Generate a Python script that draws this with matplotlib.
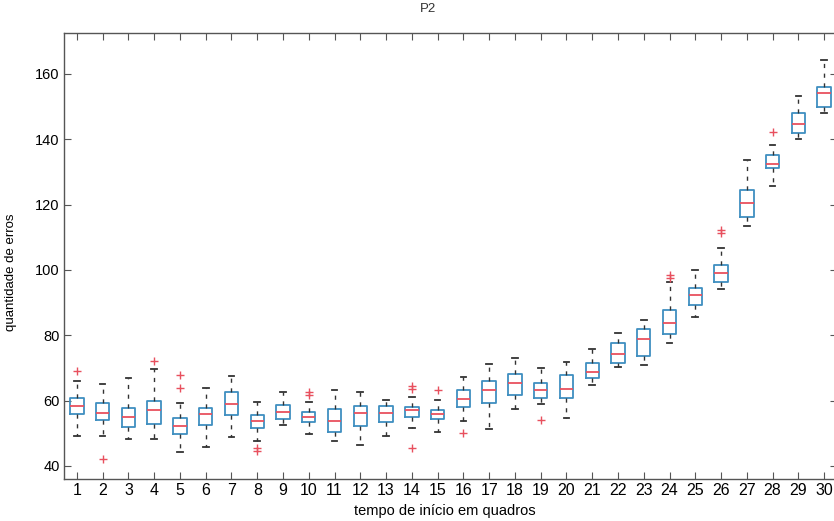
import matplotlib
matplotlib.use("Agg")
import matplotlib.pyplot as plt

plt.rcParams['font.family'] = ['Liberation Sans', 'DejaVu Sans']

# one box per start time (frames 1..30)
labels = [str(i) for i in range(1, 31)]
med = [58.2, 56.1, 55.1, 57.0, 52.2, 55.9, 59.0, 53.8, 56.4, 54.9,
       53.9, 56.1, 56.1, 57.1, 55.9, 60.4, 63.3, 65.3, 63.3, 63.5,
       68.9, 74.2, 78.8, 83.7, 92.3, 99.0, 120.4, 132.4, 144.7, 154.1]
q1 = [55.8, 54.1, 51.8, 52.9, 49.7, 52.5, 55.6, 51.5, 54.3, 53.4,
      50.3, 52.2, 53.3, 55.1, 54.3, 58.0, 59.2, 61.7, 60.7, 60.7,
      66.8, 71.6, 73.7, 80.4, 89.3, 96.2, 116.1, 131.1, 141.8, 149.8]
q3 = [60.9, 59.2, 57.8, 60.0, 54.8, 57.8, 62.7, 55.6, 58.7, 56.4,
      57.4, 58.4, 58.4, 58.0, 57.1, 63.3, 66.1, 68.2, 65.3, 67.9,
      71.6, 77.7, 81.8, 87.7, 94.4, 101.5, 124.5, 135.2, 148.1, 156.1]
whislo = [49.2, 49.2, 48.3, 48.3, 44.2, 45.9, 48.8, 47.5, 52.5, 49.7,
          47.7, 46.4, 49.2, 51.7, 50.5, 53.6, 51.2, 57.4, 59.0, 54.6,
          64.8, 70.2, 70.9, 77.7, 85.7, 94.2, 113.5, 125.7, 140.1, 148.0]
whishi = [66.1, 65.0, 66.8, 69.7, 59.2, 63.8, 67.5, 59.7, 62.6, 59.5,
          63.3, 62.6, 60.2, 61.2, 60.2, 67.2, 71.1, 73.0, 69.9, 71.9,
          75.8, 80.6, 84.7, 96.2, 100.0, 106.8, 133.7, 138.3, 153.3, 164.3]
fliers = [[69.2], [42.2], [], [72.1], [67.8, 63.7], [], [], [45.6, 44.5], [], [62.6, 61.7],
          [], [], [], [64.5, 63.5, 45.4], [63.3], [50.0], [], [], [54.1], [],
          [], [], [], [98.5, 97.6], [], [112.2, 111.4], [], [142.3], [], []]

stats = []
for i in range(len(labels)):
    stats.append(dict(med=med[i], q1=q1[i], q3=q3[i], whislo=whislo[i],
                      whishi=whishi[i], fliers=fliers[i], label=labels[i]))

fig = plt.figure(figsize=(8.34, 5.21), dpi=100)
# right spine sits just past the picture edge, as in the scan
ax = fig.add_axes([64/834, 42/521, 773/834, 446/521])

ax.bxp(stats, positions=range(1, 31), widths=0.52, showfliers=True,
       boxprops=dict(color='#3f8fc0', linewidth=1.3),
       medianprops=dict(color='#e8505e', linewidth=1.3),
       whiskerprops=dict(color='#333333', linewidth=1.0, linestyle=(0, (3, 4))),
       capprops=dict(color='#333333', linewidth=1.3),
       capwidths=0.22,
       flierprops=dict(marker='+', markeredgecolor='#e8505e', markersize=6, linestyle='none'))

ax.set_xlim(0.5, 30.5)
ax.set_ylim(36, 172.5)
ax.set_yticks(range(40, 161, 20))
ax.set_xticks(range(1, 31))
ax.set_xticklabels(labels, fontsize=11.5)
ax.tick_params(axis='y', labelsize=10.5)
ax.tick_params(direction='in', top=True, right=True, length=5, color='#555555', pad=3)
for s in ax.spines.values():
    s.set_color('#555555')
    s.set_linewidth(1.0)
ax.spines['right'].set_visible(False)

ax.set_xlabel('tempo de início em quadros', fontsize=10.5)
ax.xaxis.set_label_coords((445 - 64) / 773, -0.056)
ax.set_ylabel('quantidade de erros', fontsize=9.5)
ax.yaxis.set_label_coords(-0.061, 0.464)

fig.text(428/834, 1 - 9/521, 'P2', ha='center', va='center', fontsize=9.5, color='#333333')

fig.savefig('out.png', dpi=100)
